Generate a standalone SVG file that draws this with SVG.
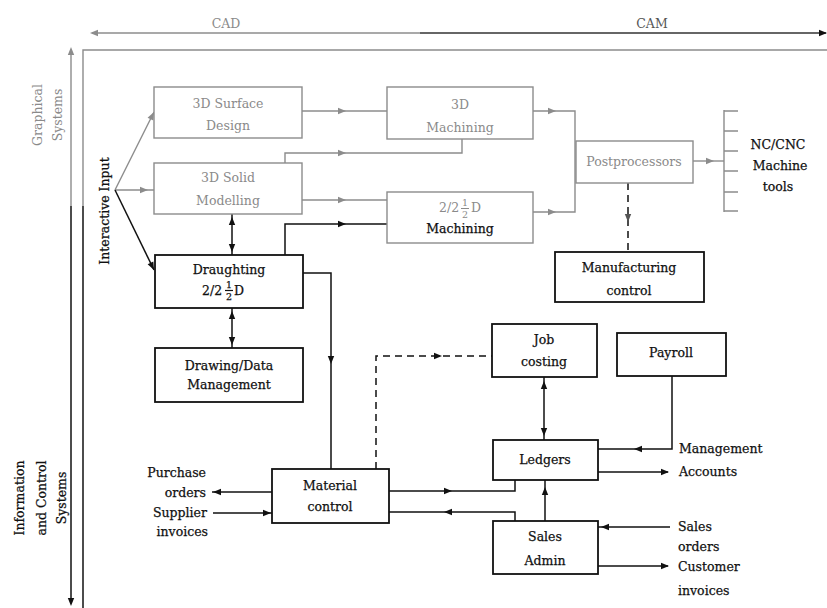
<svg xmlns="http://www.w3.org/2000/svg" xmlns:xlink="http://www.w3.org/1999/xlink" width="827" height="608" viewBox="0 0 827 608">
  <style>
    text { font-family: "DejaVu Serif", "Liberation Serif", serif; font-size: 12.5px; }
    .tk { fill: #111; stroke: #111; stroke-width: 0.25; }
    .tg { fill: #8a8a8a; }
    .mid { text-anchor: middle; }
    .end { text-anchor: end; }
    .small { font-size: 9.5px; }
    .bk { fill: #fff; stroke: #111; stroke-width: 1.8; }
    .bg { fill: #fff; stroke: #8c8c8c; stroke-width: 1.4; }
    .lk { fill: none; stroke: #111; stroke-width: 1.5; }
    .lg { fill: none; stroke: #8c8c8c; stroke-width: 1.4; }
    .dash { stroke-dasharray: 7 5; }
    .ak { fill: #111; }
    .ag { fill: #8c8c8c; }
  </style>
  <defs>
    <!-- arrowhead pointing along +x, tip at origin -->
    <path id="ah" d="M0,0 L-8,-3.2 L-8,3.2 Z"/>
  </defs>

  <rect width="827" height="608" fill="#fff"/>

  <!-- axes and frame -->
  <g id="axes">
    <path class="lg" d="M92,33 H420"/>
    <path d="M420,33 H826" fill="none" stroke="#333" stroke-width="1.4"/>
    <use href="#ah" class="ag" transform="translate(90,33) rotate(180)"/>
    <use href="#ah" class="ak" transform="translate(827,33)"/>
    <text x="226" y="28" class="tg mid">CAD</text>
    <text x="652" y="28" class="tg mid" style="fill:#555">CAM</text>

    <path class="lg" d="M827,50 H83 V206"/>
    <path class="lk" d="M83,206 V608" stroke-width="2"/>

    <path class="lg" d="M71,52 V206"/>
    <path class="lk" d="M71,206 V600" stroke-width="2"/>
    <use href="#ah" class="ag" transform="translate(71,47) rotate(-90)"/>
    <use href="#ah" class="ak" transform="translate(71,606) rotate(90)"/>

    <text class="tg mid" transform="translate(42,115) rotate(-90)">Graphical</text>
    <text class="tg mid" transform="translate(62,115) rotate(-90)">Systems</text>
    <text class="tk mid" transform="translate(108.5,211) rotate(-90)">Interactive Input</text>
    <text class="tk mid" transform="translate(24,498) rotate(-90)">Information</text>
    <text class="tk mid" transform="translate(46,498) rotate(-90)">and Control</text>
    <text class="tk mid" transform="translate(66,498) rotate(-90)">Systems</text>
  </g>

  <!-- connectors -->
  <g id="connectors">
    <!-- interactive input fan -->
    <path class="lg" d="M115,190 L154,112"/>
    <use href="#ah" class="ag" transform="translate(154,112) rotate(-63.4)"/>
    <path class="lg" d="M115,190 H154"/>
    <use href="#ah" class="ag" transform="translate(148,190)"/>
    <path class="lk" d="M115,190 L154,270"/>
    <use href="#ah" class="ak" transform="translate(154,270) rotate(64)"/>

    <!-- into the machining boxes -->
    <path class="lg" d="M302,111 H387"/>
    <use href="#ah" class="ag" transform="translate(346,111)"/>
    <path class="lg" d="M285,163 V153 H462 V139"/>
    <use href="#ah" class="ag" transform="translate(346,153)"/>
    <path class="lg" d="M302,200 H387"/>
    <use href="#ah" class="ag" transform="translate(346,200)"/>
    <path class="lk" d="M285,255 V224 H387"/>
    <use href="#ah" class="ak" transform="translate(346,224)"/>

    <!-- machining outputs to postprocessors -->
    <path class="lg" d="M533,111 H575 V212 H533"/>
    <use href="#ah" class="ag" transform="translate(556,111)"/>
    <use href="#ah" class="ag" transform="translate(556,212)"/>

    <!-- postprocessors to machine tools -->
    <path class="lg" d="M693,161 H724"/>
    <use href="#ah" class="ag" transform="translate(714,161)"/>
    <path class="lg" d="M724,110 V212 M724,111 H738 M724,131 H738 M724,151 H738 M724,171 H738 M724,192 H738 M724,211 H738"/>

    <!-- postprocessors to manufacturing control -->
    <path class="lk dash" d="M628,183 V252" stroke="#555" stroke-width="2"/>
    <use href="#ah" fill="#555" transform="translate(628,222) rotate(90)"/>

    <!-- draughting links -->
    <path class="lk" d="M232,214 V255"/>
    <use href="#ah" class="ak" transform="translate(232,217) rotate(-90)"/>
    <use href="#ah" class="ak" transform="translate(232,252) rotate(90)"/>
    <path class="lk" d="M232,308 V348"/>
    <use href="#ah" class="ak" transform="translate(232,311) rotate(-90)"/>
    <use href="#ah" class="ak" transform="translate(232,345) rotate(90)"/>
    <path class="lk" d="M303,273 H331 V469"/>
    <use href="#ah" class="ak" transform="translate(331,364) rotate(90)"/>

    <!-- material control links -->
    <path class="lk dash" d="M376,469 V356 H492"/>
    <use href="#ah" class="ak" transform="translate(442,356)"/>
    <path class="lk" d="M389,491 H515 V480"/>
    <use href="#ah" class="ak" transform="translate(452,491)"/>
    <path class="lk" d="M515,521 V512 H389"/>
    <use href="#ah" class="ak" transform="translate(444,512) rotate(180)"/>
    <path class="lk" d="M272,492 H212"/>
    <use href="#ah" class="ak" transform="translate(213,492) rotate(180)"/>
    <path class="lk" d="M213,513 H272"/>
    <use href="#ah" class="ak" transform="translate(271,513)"/>

    <!-- accounting links -->
    <path class="lk" d="M544,377 V440"/>
    <use href="#ah" class="ak" transform="translate(544,381) rotate(-90)"/>
    <use href="#ah" class="ak" transform="translate(544,436) rotate(90)"/>
    <path class="lk" d="M545,521 V480"/>
    <use href="#ah" class="ak" transform="translate(545,487) rotate(-90)"/>
    <path class="lk" d="M672,376 V449 H598"/>
    <use href="#ah" class="ak" transform="translate(634,449) rotate(180)"/>
    <path class="lk" d="M598,472 H668"/>
    <use href="#ah" class="ak" transform="translate(669,472)"/>
    <path class="lk" d="M670,527 H598"/>
    <use href="#ah" class="ak" transform="translate(601,527) rotate(180)"/>
    <path class="lk" d="M598,566 H668"/>
    <use href="#ah" class="ak" transform="translate(669,566)"/>
  </g>

  <!-- nodes -->
  <g id="surface-design">
    <rect class="bg" x="154" y="87" width="148" height="51"/>
    <text x="228" y="108" class="tg mid">3D Surface</text>
    <text x="228" y="130" class="tg mid">Design</text>
  </g>
  <g id="solid-modelling">
    <rect class="bg" x="154" y="163" width="148" height="51"/>
    <text x="228" y="182" class="tg mid">3D Solid</text>
    <text x="228" y="205" class="tg mid">Modelling</text>
  </g>
  <g id="machining-3d">
    <rect class="bg" x="387" y="87" width="146" height="52"/>
    <text x="460" y="109" class="tg mid">3D</text>
    <text x="460" y="132" class="tg mid">Machining</text>
  </g>
  <g id="machining-2d">
    <rect class="bg" x="387" y="192" width="146" height="51"/>
    <text x="439" y="212" class="tg">2/2</text>
    <text x="465" y="206" class="tg mid small">1</text>
    <line x1="461" y1="208.5" x2="469" y2="208.5" stroke="#8a8a8a" stroke-width="1"/>
    <text x="465" y="218" class="tg mid small">2</text>
    <text x="471" y="212" class="tg">D</text>
    <text x="460" y="233" class="tk mid">Machining</text>
  </g>
  <g id="postprocessors">
    <rect class="bg" x="576" y="141" width="117" height="42"/>
    <text x="634" y="166" class="tg mid">Postprocessors</text>
  </g>
  <g id="machine-tools">
    <text x="778" y="149" class="tk mid">NC/CNC</text>
    <text x="780" y="170" class="tk mid">Machine</text>
    <text x="778" y="191" class="tk mid">tools</text>
  </g>
  <g id="manufacturing-control">
    <rect class="bk" x="555" y="252" width="149" height="50"/>
    <text x="629" y="272" class="tk mid">Manufacturing</text>
    <text x="629" y="295" class="tk mid">control</text>
  </g>
  <g id="draughting">
    <rect class="bk" x="155" y="255" width="148" height="53"/>
    <text x="229" y="274" class="tk mid">Draughting</text>
    <text x="202" y="295" class="tk">2/2</text>
    <text x="229" y="288" class="tk mid small">1</text>
    <line x1="225" y1="290.5" x2="233" y2="290.5" stroke="#111" stroke-width="1.2"/>
    <text x="229" y="300" class="tk mid small">2</text>
    <text x="234" y="295" class="tk">D</text>
  </g>
  <g id="drawing-data">
    <rect class="bk" x="155" y="348" width="148" height="54"/>
    <text x="229" y="370" class="tk mid">Drawing/Data</text>
    <text x="229" y="389" class="tk mid">Management</text>
  </g>
  <g id="job-costing">
    <rect class="bk" x="492" y="324" width="105" height="53"/>
    <text x="544" y="344" class="tk mid">Job</text>
    <text x="544" y="366" class="tk mid">costing</text>
  </g>
  <g id="payroll">
    <rect class="bk" x="617" y="333" width="109" height="43"/>
    <text x="671" y="357" class="tk mid">Payroll</text>
  </g>
  <g id="ledgers">
    <rect class="bk" x="493" y="440" width="105" height="40"/>
    <text x="545" y="464" class="tk mid">Ledgers</text>
  </g>
  <g id="sales-admin">
    <rect class="bk" x="493" y="521" width="105" height="53"/>
    <text x="545" y="541" class="tk mid">Sales</text>
    <text x="545" y="565" class="tk mid">Admin</text>
  </g>
  <g id="material-control">
    <rect class="bk" x="272" y="469" width="117" height="54"/>
    <text x="330" y="490" class="tk mid">Material</text>
    <text x="330" y="511" class="tk mid">control</text>
  </g>

  <!-- external flows -->
  <g id="purchasing">
    <text x="206" y="477" class="tk end">Purchase</text>
    <text x="206" y="497" class="tk end">orders</text>
    <text x="207" y="517" class="tk end">Supplier</text>
    <text x="208" y="536" class="tk end">invoices</text>
  </g>
  <g id="accounts-out">
    <text x="679" y="453" class="tk">Management</text>
    <text x="679" y="476" class="tk">Accounts</text>
  </g>
  <g id="sales-flows">
    <text x="678" y="531" class="tk">Sales</text>
    <text x="678" y="551" class="tk">orders</text>
    <text x="678" y="571" class="tk">Customer</text>
    <text x="678" y="595" class="tk">invoices</text>
  </g>
</svg>
